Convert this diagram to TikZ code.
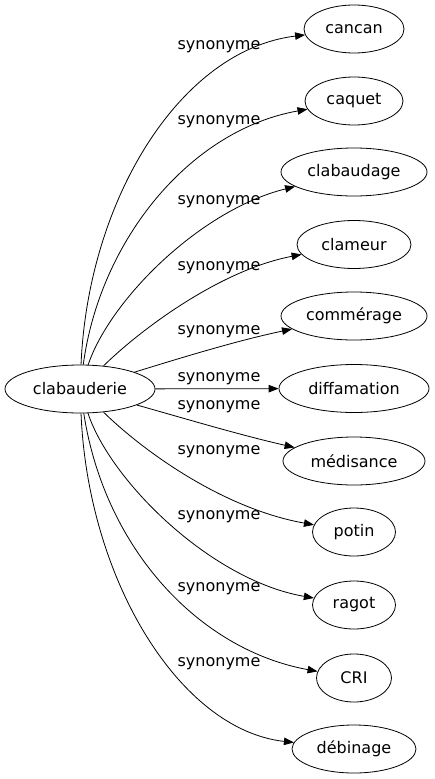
\documentclass[tikz,border=0pt]{standalone}
\usepackage{fontspec}
\setmainfont{DejaVu Sans}
\usetikzlibrary{arrows.meta,shapes.geometric}
\begin{document}
\begin{tikzpicture}[x=1pt,y=-1pt,
  word/.style={draw,ellipse,line width=0.8pt,minimum height=48pt,inner sep=0pt,font=\fontsize{16}{18}\selectfont},
  rel/.style={line width=0.8pt,-{Triangle[length=10pt,width=7.5pt]}},
  lab/.style={font=\fontsize{16}{18}\selectfont,inner sep=0pt}]
\useasboundingbox (0,0) rectangle (435,779);
\node[word,minimum width=150pt] (src) at (80,389) {clabauderie};
\node[word,minimum width=100pt] (t1) at (354,29) {cancan};
\node[word,minimum width=98pt] (t2) at (354,101) {caquet};
\node[word,minimum width=146pt] (t3) at (354,172) {clabaudage};
\node[word,minimum width=114pt] (t4) at (354,244.5) {clameur};
\node[word,minimum width=146pt] (t5) at (354,316) {commérage};
\node[word,minimum width=150pt] (t6) at (354,388.5) {diffamation};
\node[word,minimum width=142pt] (t7) at (354,461) {médisance};
\node[word,minimum width=83pt] (t8) at (354,532) {potin};
\node[word,minimum width=83pt] (t9) at (354,605) {ragot};
\node[word,minimum width=75pt] (t10) at (354,678) {CRI};
\node[word,minimum width=124pt] (t11) at (354,749) {débinage};
\draw[rel] (src) .. controls (88,200) and (180,50) .. (t1);
\draw[rel] (src) .. controls (100,240) and (190,130) .. (t2);
\draw[rel] (src) .. controls (110,300) and (200,210) .. (t3);
\draw[rel] (src) .. controls (140,330) and (220,270) .. (t4);
\draw[rel] (src) .. controls (190,355) and (240,340) .. (t5);
\draw[rel] (src) -- (t6);
\draw[rel] (src) .. controls (190,420) and (240,435) .. (t7);
\draw[rel] (src) .. controls (140,448) and (220,508) .. (t8);
\draw[rel] (src) .. controls (110,480) and (210,580) .. (t9);
\draw[rel] (src) .. controls (105,550) and (200,650) .. (t10);
\draw[rel] (src) .. controls (88,580) and (180,730) .. (t11);
\node[lab] (l1) at (219,46.7) {synonyme};
\node[lab] (l2) at (219,121.7) {synonyme};
\node[lab] (l3) at (219,201.7) {synonyme};
\node[lab] (l4) at (219,268) {synonyme};
\node[lab] (l5) at (219,331.7) {synonyme};
\node[lab] (l6) at (219,378.3) {synonyme};
\node[lab] (l7) at (219,406.7) {synonyme};
\node[lab] (l8) at (219,451.7) {synonyme};
\node[lab] (l9) at (219,516.7) {synonyme};
\node[lab] (l10) at (219,588.3) {synonyme};
\node[lab] (l11) at (219,663.3) {synonyme};
\end{tikzpicture}
\end{document}
